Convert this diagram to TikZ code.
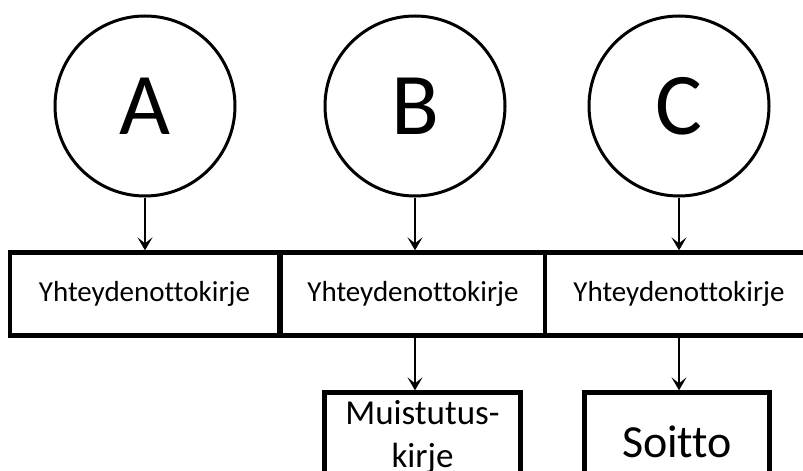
\documentclass[tikz,border=0pt]{standalone}
\usepackage{fontspec}
\setmainfont{Carlito}[Ligatures={NoCommon,NoContextual}]
\usetikzlibrary{arrows.meta}
\begin{document}
\begin{tikzpicture}[x=1pt,y=-1pt,
  circ/.style={circle,draw,line width=3pt,minimum size=180pt,inner sep=0pt,
    font=\fontsize{88}{100}\selectfont},
  topbox/.style={rectangle,draw,line width=4.3pt,minimum height=83pt,inner sep=0pt,
    font=\fontsize{29}{35}\selectfont},
  lowbox/.style={rectangle,draw,line width=4.3pt,inner sep=0pt,align=center},
  arr/.style={line width=2.5pt,-{Stealth[length=13pt,width=15pt,inset=6pt]}}]
\useasboundingbox (0,0) rectangle (803,471);
\fill[white] (0,0) rectangle (803,471);
% circles
\node[circ] (cA) at (145,106) {\raisebox{-3pt}{A}};
\node[circ] (cB) at (415,106) {\raisebox{-3pt}{B}};
\node[circ] (cC) at (679,106) {\raisebox{-3pt}{C}};
% top boxes
\node[topbox,minimum width=269pt] (b1) at (144.5,294) {\raisebox{-2pt}{Yhteydenottokirje}};
\node[topbox,minimum width=264pt] (b2) at (413,294) {\raisebox{-2pt}{Yhteydenottokirje}};
\node[topbox,minimum width=268pt] (b3) at (679,294) {\raisebox{-2pt}{Yhteydenottokirje}};
% lower boxes
\node[lowbox,minimum width=196pt,minimum height=89pt,
  font=\fontsize{35}{43}\selectfont] (mu) at (422.5,437) {Muistutus-\\kirje};
\node[lowbox,minimum width=185pt,minimum height=99pt,
  font=\fontsize{46}{55}\selectfont] (so) at (677,442) {Soitto};
% connectors
\draw[arr] (cA.south) -- (cA.south |- b1.north);
\draw[arr] (cB.south) -- (cB.south |- b2.north);
\draw[arr] (cC.south) -- (cC.south |- b3.north);
\draw[arr] (b2.south -| cB.south) -- (mu.north -| cB.south);
\draw[arr] (b3.south -| cC.south) -- (so.north -| cC.south);
\end{tikzpicture}
\end{document}
